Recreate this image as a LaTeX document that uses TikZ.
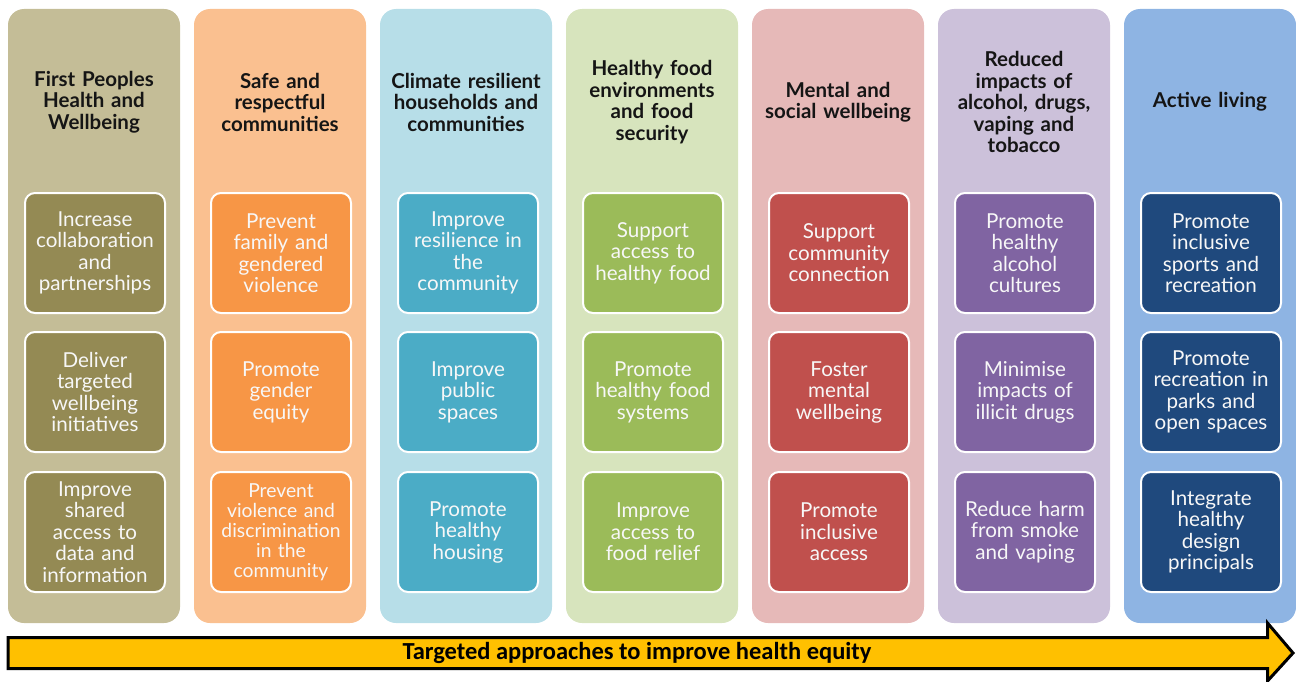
\documentclass[tikz,border=0pt]{standalone}
\usepackage{fontspec}
\setmainfont{Lato}
\newfontfamily\bannerfont{Carlito}

% column backgrounds and their action boxes
\definecolor{bgA}{HTML}{C4BD97}\definecolor{fgA}{HTML}{948A54}
\definecolor{bgB}{HTML}{FAC090}\definecolor{fgB}{HTML}{F79646}
\definecolor{bgC}{HTML}{B7DEE8}\definecolor{fgC}{HTML}{4BACC6}
\definecolor{bgD}{HTML}{D7E4BD}\definecolor{fgD}{HTML}{9BBB59}
\definecolor{bgE}{HTML}{E6B9B8}\definecolor{fgE}{HTML}{C0504D}
\definecolor{bgF}{HTML}{CCC1DA}\definecolor{fgF}{HTML}{8064A2}
\definecolor{bgG}{HTML}{8EB4E3}\definecolor{fgG}{HTML}{1F497D}
\definecolor{headtext}{HTML}{151515}
\definecolor{boxtext}{HTML}{F7F7F7}
\definecolor{banner}{HTML}{FFC000}

\tikzset{
  column/.style={rounded corners=16pt, minimum width=172pt, minimum height=614pt, inner sep=0pt},
  heading/.style={text width=170pt, align=center, inner sep=0pt, text=headtext,
    font=\bfseries\fontsize{20.5}{21.5}\selectfont},
  action/.style={rounded corners=10pt, draw=white, line width=2pt,
    minimum width=140pt, minimum height=120pt, text width=138pt, inner sep=0pt,
    align=center, text=boxtext, font=\fontsize{20.6}{21.5}\selectfont},
  smallaction/.style={action, font=\fontsize{19.3}{20}\selectfont},
  bannertext/.style={font=\bannerfont\bfseries\fontsize{24.5}{26}\selectfont, text=black, inner sep=0pt}
}

\begin{document}
\begin{tikzpicture}[x=1pt, y=-1pt]
\useasboundingbox (0,0) rectangle (1296,682);

% column panels
\node[column, fill=bgA] (colA) at (94,316) {};
\node[column, fill=bgB] (colB) at (280,316) {};
\node[column, fill=bgC] (colC) at (466,316) {};
\node[column, fill=bgD] (colD) at (652,316) {};
\node[column, fill=bgE] (colE) at (838,316) {};
\node[column, fill=bgF] (colF) at (1024,316) {};
\node[column, fill=bgG] (colG) at (1210,316) {};

% column headings
\node[heading] (hA) at (94,102) {First Peoples\\Health and\\Wellbeing};
\node[heading] (hB) at (280,102) {Safe and\\respectful\\communities};
\node[heading] (hC) at (466,102) {Climate resilient\\households and\\communities};
\node[heading] (hD) at (652,102) {Healthy food\\environments\\and food\\security};
\node[heading] (hE) at (838,102) {Mental and\\social wellbeing};
\node[heading] (hF) at (1024,102) {Reduced\\impacts of\\alcohol, drugs,\\vaping and\\tobacco};
\node[heading] (hG) at (1210,102) {Active living};

% action boxes
\node[action, fill=fgA] (a1) at (95,253) {Increase\\collaboration\\and\\partnerships};
\node[action, fill=fgA] (a2) at (95,392) {Deliver\\targeted\\wellbeing\\initiatives};
\node[action, fill=fgA] (a3) at (95,532) {Improve\\shared\\access to\\data and\\information};

\node[action, fill=fgB] (b1) at (281,253) {Prevent\\family and\\gendered\\violence};
\node[action, fill=fgB] (b2) at (281,392) {Promote\\gender\\equity};
\node[smallaction, fill=fgB] (b3) at (281,532) {Prevent\\violence and\\discrimination\\in the\\community};

\node[action, fill=fgC] (c1) at (468,253) {Improve\\resilience in\\the\\community};
\node[action, fill=fgC] (c2) at (468,392) {Improve\\public\\spaces};
\node[action, fill=fgC] (c3) at (468,532) {Promote\\healthy\\housing};

\node[action, fill=fgD] (d1) at (653,253) {Support\\access to\\healthy food};
\node[action, fill=fgD] (d2) at (653,392) {Promote\\healthy food\\systems};
\node[action, fill=fgD] (d3) at (653,532) {Improve\\access to\\food relief};

\node[action, fill=fgE] (e1) at (839,253) {Support\\community\\connection};
\node[action, fill=fgE] (e2) at (839,392) {Foster\\mental\\wellbeing};
\node[action, fill=fgE] (e3) at (839,532) {Promote\\inclusive\\access};

\node[action, fill=fgF] (f1) at (1025,253) {Promote\\healthy\\alcohol\\cultures};
\node[action, fill=fgF] (f2) at (1025,392) {Minimise\\impacts of\\illicit drugs};
\node[action, fill=fgF] (f3) at (1025,532) {Reduce harm\\from smoke\\and vaping};

\node[action, fill=fgG] (g1) at (1211,253) {Promote\\inclusive\\sports and\\recreation};
\node[action, fill=fgG] (g2) at (1211,392) {Promote\\recreation in\\parks and\\open spaces};
\node[action, fill=fgG] (g3) at (1211,532) {Integrate\\healthy\\design\\principals};

% banner arrow along the bottom
\draw[fill=banner, draw=black, line width=3pt, line join=miter]
  (8,637.5) -- (1267.5,637.5) -- (1267.5,623) -- (1293,653) -- (1267.5,681)
  -- (1267.5,668.5) -- (8,668.5) -- cycle;
\node[bannertext] (banner) at (637,653) {Targeted approaches to improve health equity};
\end{tikzpicture}
\end{document}
